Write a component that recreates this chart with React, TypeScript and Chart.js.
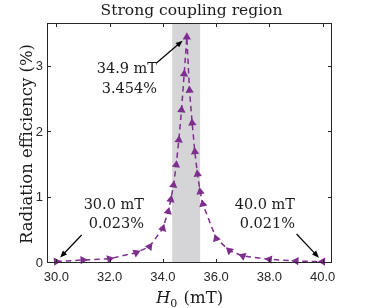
import { useEffect, useRef } from 'react';
import { Chart, registerables } from 'chart.js';

Chart.register(...registerables);

// ---- data ----
const FIELD_MT = [30.0, 31.0, 32.0, 33.0, 33.5, 34.0, 34.2, 34.3, 34.4, 34.5, 34.6, 34.7, 34.8, 34.9, 35.0, 35.1, 35.2, 35.3, 35.4, 35.5, 36.0, 36.5, 37.0, 38.0, 39.0, 40.0];
const EFFICIENCY = [0.023, 0.046, 0.066, 0.158, 0.25, 0.53, 0.786, 0.97, 1.19, 1.5, 1.88, 2.34, 2.89, 3.454, 2.64, 2.14, 1.7, 1.36, 1.09, 0.9, 0.375, 0.19, 0.107, 0.057, 0.03, 0.021];
const X_TICKS = [30, 32, 34, 36, 38, 40];
const Y_TICKS = [0, 1, 2, 3];
const BAND = [34.35, 35.4];
const TITLE = 'Strong coupling region';
const Y_LABEL = 'Radiation efficiency (%)';

// annotation labels: target point, text anchor (right edge, first baseline), arrow tail
const ANN_TARGET_X = [34.9, 30.0, 40.0];
const ANN_TARGET_Y = [3.454, 0.023, 0.021];
const ANN_LINE1 = ['34.9 mT', '30.0 mT', '40.0 mT'];
const ANN_LINE2 = ['3.454%', '0.023%', '0.021%'];
const ANN_TEXT_X = [33.78, 33.29, 38.96];
const ANN_TEXT_Y = [2.9, 0.833, 0.833];
const ANN_TAIL_X = [33.77, 30.95, 39.02];
const ANN_TAIL_Y = [3.063, 0.428, 0.443];

const PURPLE = '#7E2F8E';
const INK = '#1a1a1a';
const SERIF = '"DejaVu Serif", serif';

const peakIndex = EFFICIENCY.indexOf(Math.max(...EFFICIENCY));

const decorPlugin = {
  id: 'decor',
  beforeDatasetsDraw(chart: any) {
    const { ctx, chartArea: a, scales } = chart;
    const x0 = scales.x.getPixelForValue(BAND[0]);
    const x1 = scales.x.getPixelForValue(BAND[1]);
    ctx.save();
    ctx.fillStyle = '#d5d5d7';
    ctx.fillRect(x0, a.top, x1 - x0, a.bottom - a.top);
    ctx.restore();
  },
  afterDatasetsDraw(chart: any) {
    const { ctx, chartArea: a, scales } = chart;
    const xs = scales.x;
    const ys = scales.y;
    ctx.save();
    // frame
    ctx.strokeStyle = '#262626';
    ctx.lineWidth = 1;
    ctx.strokeRect(a.left + 0.5, a.top + 0.5, a.right - a.left - 1, a.bottom - a.top - 1);
    // inward ticks
    ctx.beginPath();
    const tl = 4;
    X_TICKS.forEach((v) => {
      const px = Math.round(xs.getPixelForValue(v)) + 0.5;
      ctx.moveTo(px, a.bottom);
      ctx.lineTo(px, a.bottom - tl);
      ctx.moveTo(px, a.top);
      ctx.lineTo(px, a.top + tl);
    });
    Y_TICKS.forEach((v) => {
      const py = Math.round(ys.getPixelForValue(v)) - 0.5;
      ctx.moveTo(a.left, py);
      ctx.lineTo(a.left + tl, py);
      ctx.moveTo(a.right, py);
      ctx.lineTo(a.right - tl, py);
    });
    ctx.stroke();

    // annotations
    ctx.fillStyle = INK;
    ctx.font = `14.5px ${SERIF}`;
    ctx.textAlign = 'right';
    ctx.textBaseline = 'alphabetic';
    for (let i = 0; i < ANN_LINE1.length; i++) {
      const tx = xs.getPixelForValue(ANN_TEXT_X[i]);
      const ty = ys.getPixelForValue(ANN_TEXT_Y[i]);
      ctx.fillText(ANN_LINE1[i], tx, ty);
      ctx.fillText(ANN_LINE2[i], tx, ty + 19.5);
      // arrow
      const sx = xs.getPixelForValue(ANN_TAIL_X[i]);
      const sy = ys.getPixelForValue(ANN_TAIL_Y[i]);
      const px = xs.getPixelForValue(ANN_TARGET_X[i]);
      const py = ys.getPixelForValue(ANN_TARGET_Y[i]);
      const len = Math.hypot(px - sx, py - sy);
      const ux = (px - sx) / len;
      const uy = (py - sy) / len;
      const ex = px - ux * 5.5;
      const ey = py - uy * 5.5;
      const hl = 7;
      const hw = 2.8;
      ctx.strokeStyle = '#000';
      ctx.lineWidth = 1.2;
      ctx.beginPath();
      ctx.moveTo(sx, sy);
      ctx.lineTo(ex - ux * hl * 0.8, ey - uy * hl * 0.8);
      ctx.stroke();
      ctx.fillStyle = '#000';
      ctx.beginPath();
      ctx.moveTo(ex, ey);
      ctx.lineTo(ex - ux * hl - uy * hw, ey - uy * hl + ux * hw);
      ctx.lineTo(ex - ux * hl + uy * hw, ey - uy * hl - ux * hw);
      ctx.closePath();
      ctx.fill();
      ctx.fillStyle = INK;
    }

    // title
    const cx = (a.left + a.right) / 2;
    ctx.textAlign = 'center';
    ctx.font = `15.5px ${SERIF}`;
    ctx.fillText(TITLE, cx + 2, 15);

    // y label
    ctx.save();
    ctx.translate(32, (a.top + a.bottom) / 2 + 1);
    ctx.rotate(-Math.PI / 2);
    ctx.font = `16.5px ${SERIF}`;
    ctx.textAlign = 'center';
    ctx.fillText(Y_LABEL, 0, 0);
    ctx.restore();

    // x label: H_0 (mT)
    const fH = `italic 16.5px ${SERIF}`;
    const fSub = `11px ${SERIF}`;
    const fR = `16.5px ${SERIF}`;
    ctx.textAlign = 'left';
    ctx.font = fH;
    const wH = ctx.measureText('H').width;
    ctx.font = fSub;
    const wS = ctx.measureText('0').width;
    ctx.font = fR;
    const rest = ' (mT)';
    const wR = ctx.measureText(rest).width;
    const total = wH + wS + 1 + wR;
    let x = cx - total / 2;
    const base = 303;
    ctx.font = fH;
    ctx.fillText('H', x, base);
    x += wH;
    ctx.font = fSub;
    ctx.fillText('0', x, base + 3.5);
    x += wS + 1;
    ctx.font = fR;
    ctx.fillText(rest, x, base);
    ctx.restore();
  },
};

export default function App() {
  const ref = useRef<HTMLCanvasElement>(null);
  useEffect(() => {
    const canvas = ref.current!;
    const chart = new Chart(canvas, {
      type: 'line',
      data: {
        datasets: [
          {
            data: FIELD_MT.map((x, i) => ({ x, y: EFFICIENCY[i] })),
            borderColor: PURPLE,
            backgroundColor: PURPLE,
            borderWidth: 1.5,
            borderDash: [5.5, 4],
            tension: 0,
            pointStyle: 'triangle',
            pointRadius: 4.8,
            pointBorderWidth: 0,
            pointBackgroundColor: PURPLE,
            pointBorderColor: PURPLE,
            pointRotation: (c: any) => {
              if (c.type !== 'data') return 0;
              const i = c.dataIndex;
              if (i === peakIndex) return 0;
              const j = i < peakIndex ? i + 1 : i - 1;
              const xs = c.chart.scales?.x;
              const ys = c.chart.scales?.y;
              if (!xs || !ys) return i < peakIndex ? 90 : -90;
              const dx = xs.getPixelForValue(FIELD_MT[j]) - xs.getPixelForValue(FIELD_MT[i]);
              const dy = ys.getPixelForValue(EFFICIENCY[j]) - ys.getPixelForValue(EFFICIENCY[i]);
              if (!isFinite(dx) || !isFinite(dy)) return i < peakIndex ? 90 : -90;
              return (Math.atan2(dx, -dy) * 180) / Math.PI;
            },
            clip: false,
          } as any,
        ],
      },
      options: {
        responsive: false,
        animation: false,
        devicePixelRatio: 1,
        layout: { padding: { top: 23, right: 34, left: 0, bottom: 0 } },
        plugins: {
          legend: { display: false },
          tooltip: { enabled: false },
          title: { display: false },
        },
        scales: {
          x: {
            type: 'linear',
            min: 29.65,
            max: 40.35,
            afterBuildTicks: (s: any) => {
              s.ticks = X_TICKS.map((v) => ({ value: v }));
            },
            afterFit: (s: any) => {
              s.height = 45;
            },
            ticks: {
              callback: (v: any) => Number(v).toFixed(1),
              font: { family: '"Liberation Sans", Arial, sans-serif', size: 13 },
              color: '#262626',
              padding: 7,
              maxRotation: 0,
              autoSkip: false,
            },
            grid: { display: false, drawTicks: false },
            border: { display: false },
          },
          y: {
            type: 'linear',
            min: 0,
            max: 3.67,
            afterBuildTicks: (s: any) => {
              s.ticks = Y_TICKS.map((v) => ({ value: v }));
            },
            afterFit: (s: any) => {
              s.width = 47;
            },
            ticks: {
              callback: (v: any) => String(v),
              font: { family: '"Liberation Sans", Arial, sans-serif', size: 13 },
              color: '#262626',
              padding: 4,
              autoSkip: false,
            },
            grid: { display: false, drawTicks: false },
            border: { display: false },
          },
        },
      },
      plugins: [decorPlugin],
    } as any);
    return () => chart.destroy();
  }, []);
  return (
    <div style={{ position: 'fixed', left: 0, top: 0, width: 366, height: 308, background: '#fff' }}>
      <canvas ref={ref} width={366} height={308} style={{ width: 366, height: 308, display: 'block' }} />
    </div>
  );
}
